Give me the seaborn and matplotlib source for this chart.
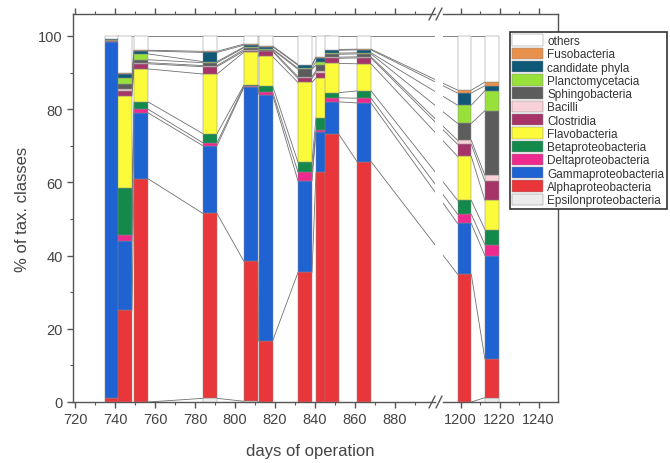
import matplotlib
matplotlib.use('Agg')
import matplotlib.pyplot as plt
import seaborn as sns
from matplotlib.patches import Patch
from matplotlib.lines import Line2D
from matplotlib.ticker import MultipleLocator

# sampling days (left part and right part of the broken axis)
days_left = [738.5, 745, 753, 787.5, 808, 815.25, 835, 844, 848.25, 864.5]
days_right = [1202, 1216]
days = days_left + days_right

# class percentages per sample, stacked bottom -> top
eps = [0, 0, 0, 1.0, 0.2, 0, 0, 0, 0, 0, 0, 1.2]
alpha = [1.2, 25, 61, 50.5, 38.2, 16.6, 35.4, 62.7, 73.3, 65.7, 34.9, 10.5]
gamma = [97.2, 19, 18, 18.5, 47.6, 67.4, 25, 11, 8.7, 16, 13.9, 28.3]
delta = [0.2, 1.6, 1, 0.8, 0.3, 0.8, 2.4, 0.6, 1.1, 1.3, 2.5, 3]
beta = [0.1, 13, 2, 2.5, 0.3, 1.6, 2.7, 3.3, 1.4, 2, 3.8, 4.1]
flavo = [0.1, 25, 9, 16.3, 9, 8, 21.8, 11, 8, 7.4, 12, 8]
clost = [0.1, 1.4, 1.4, 2, 0.3, 1.4, 1.1, 1.4, 1.4, 1.6, 3.3, 5.2]
bacilli = [0, 0.5, 0.3, 0.3, 0.4, 0.2, 0.5, 0.5, 0.3, 0.3, 1.1, 1.6]
sphingo = [0.1, 1.5, 0.8, 0.8, 0.5, 0.3, 2, 1.5, 0.8, 0.8, 4.6, 17.7]
plancto = [0, 1.5, 1.6, 0.3, 0.2, 0.2, 0.3, 1, 0.3, 0.3, 5, 5.4]
cand = [0.2, 1, 0.8, 2.5, 0.5, 0.6, 0.8, 1, 0.8, 0.8, 3.3, 1.4]
fuso = [0, 0.3, 0.2, 0.3, 0.3, 0.2, 0.2, 0.3, 0.2, 0.2, 0.8, 1]
others = [0.8, 10.2, 3.9, 4.2, 2.2, 2.7, 7.8, 5.7, 3.7, 3.6, 14.8, 12.6]

classes = ['Epsilonproteobacteria', 'Alphaproteobacteria', 'Gammaproteobacteria',
           'Deltaproteobacteria', 'Betaproteobacteria', 'Flavobacteria', 'Clostridia',
           'Bacilli', 'Sphingobacteria', 'Planctomycetacia', 'candidate phyla',
           'Fusobacteria', 'others']
values = [eps, alpha, gamma, delta, beta, flavo, clost, bacilli, sphingo,
          plancto, cand, fuso, others]
colors = ['#ececec', '#e8363a', '#1f62d2', '#ee2a8e', '#138a4c', '#fbfb3c', '#a63468',
          '#f8d2d8', '#5c5c5c', '#98e03a', '#0f5878', '#e8914c', '#ffffff']

sns.set_style('ticks')
plt.rcParams['font.family'] = ['Liberation Sans', 'DejaVu Sans']

W, H = 670, 464
fig = plt.figure(figsize=(6.7, 4.64), dpi=100)
ax1 = fig.add_axes([73 / W, 1 - 403 / H, (435 - 73) / W, (403 - 15) / H])
ax2 = fig.add_axes([443 / W, 1 - 403 / H, (558 - 443) / W, (403 - 15) / H])
ax1.set_xlim(719, 900)
ax2.set_xlim(1191, 1250)
for ax in (ax1, ax2):
    ax.set_ylim(0, 106)
    ax.set_facecolor('white')

bar_w = 7
edge = '#8a8a8a'

# stacked bars, drawn bar by bar so later bars overlay earlier ones
for i, d in enumerate(days):
    ax = ax1 if i < len(days_left) else ax2
    bottom = 0
    for k in range(len(classes)):
        v = values[k][i]
        ax.bar(d, v, width=bar_w, bottom=bottom, color=colors[k],
               edgecolor=edge, linewidth=0.35, zorder=3)
        bottom += v

# cumulative boundaries for connector lines
cums = []
for i in range(len(days)):
    c = [0]
    for k in range(len(classes)):
        c.append(c[-1] + values[k][i])
    cums.append(c)


def to_ax(src, dst, x):
    px = src.transData.transform((x, 0))
    return dst.transData.inverted().transform(px)[0]


line_kw = dict(color='#707070', linewidth=0.6, zorder=2)
for i in range(len(days) - 1):
    x0 = days[i] + bar_w / 2
    x1 = days[i + 1] - bar_w / 2
    left_in = i < len(days_left)
    right_in = i + 1 < len(days_left)
    for k in range(1, len(classes) + 1):
        y0, y1 = cums[i][k], cums[i + 1][k]
        if left_in and right_in:
            ax1.plot([x0, x1], [y0, y1], **line_kw)
        elif left_in and not right_in:
            ax1.plot([x0, to_ax(ax2, ax1, x1)], [y0, y1], **line_kw)
            ax2.plot([to_ax(ax1, ax2, x0), x1], [y0, y1], **line_kw)
        else:
            ax2.plot([x0, x1], [y0, y1], **line_kw)

spine_c = '#555555'
tick_c = '#444444'
for ax in (ax1, ax2):
    for s in ax.spines.values():
        s.set_color(spine_c)
        s.set_linewidth(1.0)
    ax.tick_params(axis='both', which='major', length=4, width=1, color=spine_c,
                   labelcolor=tick_c, labelsize=10.5, direction='out')
    ax.tick_params(axis='both', which='minor', length=2.5, width=0.8, color=spine_c,
                   direction='out')
    ax.tick_params(axis='x', which='both', top=True, bottom=True)

ax1.spines['right'].set_visible(False)
ax2.spines['left'].set_visible(False)
ax1.set_xticks(list(range(720, 881, 20)))
ax1.set_xticks(list(range(730, 900, 20)), minor=True)
ax1.yaxis.set_minor_locator(MultipleLocator(10))
ax1.set_yticks([0, 20, 40, 60, 80, 100])
ax2.set_xticks([1200, 1220, 1240])
ax2.set_xticks([1210, 1230], minor=True)
ax2.tick_params(axis='y', which='both', left=False, right=False, labelleft=False)

ax1.set_ylabel('% of tax. classes', fontsize=12, color=tick_c, labelpad=6)
fig.text(310 / W, 1 - 452 / H, 'days of operation', ha='center', va='center',
         fontsize=12, color=tick_c)

# break marks on the top and bottom axis lines
for yb in (15, 403):
    for xb in (432, 439):
        fig.add_artist(Line2D([(xb - 3) / W, (xb + 3) / W],
                              [1 - (yb + 6) / H, 1 - (yb - 6) / H],
                              color=spine_c, linewidth=1.0))

handles = [Patch(facecolor=colors[k], edgecolor=edge, linewidth=0.35)
           for k in range(len(classes))][::-1]
leg = fig.legend(handles, classes[::-1], loc='upper left',
                 bbox_to_anchor=(510 / W, 1 - 33 / H), fontsize=8.5,
                 handlelength=2.6, handleheight=1.1, labelspacing=0.05,
                 handletextpad=0.35, borderpad=0.2, borderaxespad=0,
                 fancybox=False, framealpha=1, edgecolor='#333333')
leg.get_frame().set_linewidth(1.2)
for t in leg.get_texts():
    t.set_color('#333333')

fig.savefig('out.png', dpi=100)
